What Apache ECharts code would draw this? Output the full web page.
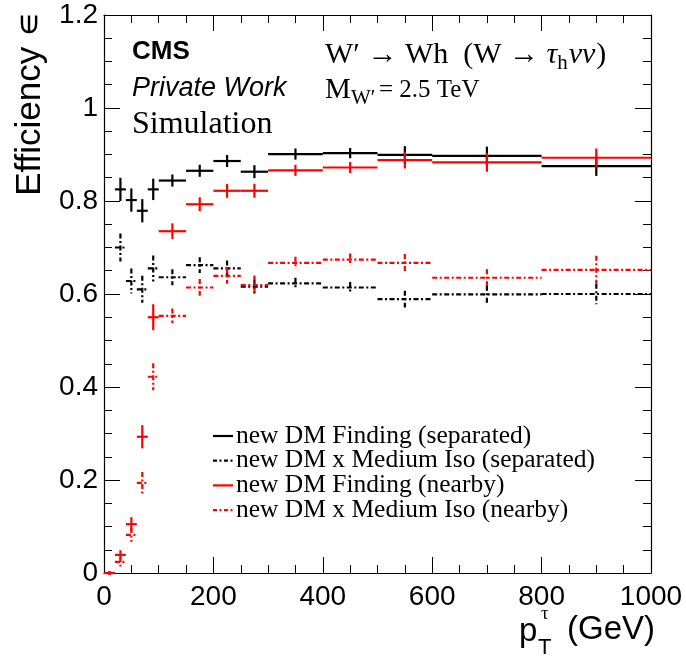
<!DOCTYPE html>
<html><head><meta charset="utf-8">
<script src="https://cdn.jsdelivr.net/npm/echarts@6/dist/echarts.min.js"></script>
<style>html,body{margin:0;padding:0;background:#fff}#c{width:686px;height:659px}</style>
</head><body><div id="c"></div>
<script>
// Bin edges (pT in GeV)
const binLow  = [0, 20, 40, 60, 80, 100, 150, 200, 250, 300, 400, 500, 600, 800];
const binHigh = [20, 40, 60, 80, 100, 150, 200, 250, 300, 400, 500, 600, 800, 1000];

// new DM Finding (separated)
const findSep    = [null, 0.825, 0.802, 0.779, 0.825, 0.844, 0.865, 0.886, 0.863, 0.901, 0.903, 0.899, 0.897, 0.875];
const findSepErr = [null, 0.025, 0.025, 0.025, 0.023, 0.013, 0.013, 0.013, 0.014, 0.012, 0.011, 0.019, 0.020, 0.021];
// new DM x Medium Iso (separated)
const isoSep     = [null, 0.700, 0.628, 0.610, 0.655, 0.636, 0.662, 0.655, 0.616, 0.623, 0.614, 0.589, 0.599, 0.600];
const isoSepErr  = [null, 0.030, 0.027, 0.029, 0.028, 0.017, 0.017, 0.017, 0.015, 0.012, 0.012, 0.018, 0.019, 0.022];
// new DM Finding (nearby)
const findNear    = [0.000, 0.039, 0.105, 0.293, 0.550, 0.735, 0.793, 0.822, 0.822, 0.866, 0.872, 0.888, 0.883, 0.893];
const findNearErr = [0.004, 0.010, 0.015, 0.025, 0.028, 0.017, 0.015, 0.015, 0.015, 0.012, 0.012, 0.018, 0.020, 0.020];
// new DM x Medium Iso (nearby)
const isoNear     = [0.000, 0.024, 0.082, 0.194, 0.422, 0.553, 0.614, 0.639, 0.619, 0.667, 0.674, 0.667, 0.635, 0.652];
const isoNearErr  = [0.004, 0.010, 0.015, 0.023, 0.029, 0.016, 0.018, 0.017, 0.021, 0.013, 0.013, 0.019, 0.018, 0.030];

const xTicks = [0, 200, 400, 600, 800, 1000];
const yTicks = [0, 0.2, 0.4, 0.6, 0.8, 1, 1.2];

const legendNames = [
  'new DM Finding (separated)',
  'new DM x Medium Iso (separated)',
  'new DM Finding (nearby)',
  'new DM x Medium Iso (nearby)'
];

const DASH = [5, 2.5, 2, 2.5];
const serif = '"Liberation Serif", "Times New Roman", serif';
const sans = '"Liberation Sans", Arial, Helvetica, sans-serif';

function makeSeries(name, vals, errs, color, dashed) {
  const data = [];
  for (let i = 0; i < vals.length; i++) {
    if (vals[i] == null) continue;
    data.push([(binLow[i] + binHigh[i]) / 2, binLow[i], binHigh[i], vals[i], errs[i]]);
  }
  return {
    type: 'custom', name: name, data: data, clip: false, z: 5,
    encode: { x: [0, 1, 2], y: [3] },
    renderItem: function (params, api) {
      const lo = api.coord([api.value(1), api.value(3)]);
      const hi = api.coord([api.value(2), api.value(3)]);
      const top = api.coord([api.value(0), api.value(3) + api.value(4)]);
      const bot = api.coord([api.value(0), api.value(3) - api.value(4)]);
      const style = { stroke: color, lineWidth: 2.2, fill: null, lineDash: dashed ? DASH : null };
      return { type: 'group', children: [
        { type: 'line', shape: { x1: lo[0], y1: lo[1], x2: hi[0], y2: hi[1] }, style: style },
        { type: 'line', shape: { x1: top[0], y1: top[1], x2: bot[0], y2: bot[1] }, style: style }
      ]};
    }
  };
}

// text measurement for composed labels
const mctx = document.createElement('canvas').getContext('2d');
function tw(text, font) { mctx.font = font; return mctx.measureText(text).width; }

// Process label: W' -> Wh (W -> tau_h nu nu)
const procY = 55, procX = 325;
const fMain = '30px ' + serif, fIt = 'italic 30px ' + serif, fSub = '21px ' + serif;
const p1 = 'W\u2032 \u2192 Wh  (W \u2192 ';
let px = procX;
const procParts = [];
procParts.push({ type: 'text', x: px, y: procY, style: { text: p1, font: fMain, fill: '#000', textVerticalAlign: 'middle' } });
px += tw(p1, fMain);
procParts.push({ type: 'text', x: px, y: procY, style: { text: '\u03C4', font: fIt, fill: '#000', textVerticalAlign: 'middle' } });
px += tw('\u03C4', fIt);
procParts.push({ type: 'text', x: px, y: procY + 8, style: { text: 'h', font: fSub, fill: '#000', textVerticalAlign: 'middle' } });
px += tw('h', fSub) + 1;
procParts.push({ type: 'text', x: px, y: procY, style: { text: '\u03BD\u03BD', font: fIt, fill: '#000', textVerticalAlign: 'middle' } });
px += tw('\u03BD\u03BD', fIt) + 1;
procParts.push({ type: 'text', x: px, y: procY, style: { text: ')', font: fMain, fill: '#000', textVerticalAlign: 'middle' } });

const legendGraphics = [];
const legendColors = ['#000', '#000', '#ff0000', '#ff0000'];
const legendDashed = [false, true, false, true];
for (let i = 0; i < 4; i++) {
  const yy = 436 + i * 24.7;
  legendGraphics.push({ type: 'line', shape: { x1: 213, y1: yy, x2: 233, y2: yy },
    style: { stroke: legendColors[i], lineWidth: 2.2, lineDash: legendDashed[i] ? [4, 2.5, 2, 2.5] : null } });
  legendGraphics.push({ type: 'text', x: 236, y: yy, style: { text: legendNames[i],
    font: '25.5px ' + serif, fill: '#000', textVerticalAlign: 'middle', textAlign: 'left' } });
}

const chart = echarts.init(document.getElementById('c'), null, { renderer: 'canvas' });

const axisCommon = {
  min: 0, axisLine: { show: true, onZero: false, lineStyle: { color: '#000', width: 1.2 } },
  axisTick: { show: true, inside: true, length: 16, lineStyle: { color: '#000', width: 1 } },
  minorTick: { show: true, splitNumber: 4, length: 8, lineStyle: { color: '#000', width: 1 } },
  splitLine: { show: false }, minorSplitLine: { show: false }
};

chart.setOption({
  animation: false,
  backgroundColor: '#fff',
  grid: { left: 104, right: 35, top: 15, bottom: 86 },
  xAxis: [
    Object.assign({}, axisCommon, { type: 'value', position: 'bottom', max: 1000, interval: 200,
      axisLabel: { show: true, margin: 10, color: '#000', fontSize: 28, fontFamily: sans,
        formatter: function (v) { return xTicks.indexOf(v) >= 0 ? String(v) : ''; } } }),
    Object.assign({}, axisCommon, { type: 'value', position: 'top', max: 1000, interval: 200, axisLabel: { show: false } })
  ],
  yAxis: [
    Object.assign({}, axisCommon, { type: 'value', position: 'left', max: 1.2, interval: 0.2,
      axisLabel: { show: true, margin: 6, color: '#000', fontSize: 28, fontFamily: sans,
        formatter: function (v) {
          const r = Math.round(v * 10) / 10;
          return yTicks.indexOf(r) >= 0 ? String(r) : '';
        } } }),
    Object.assign({}, axisCommon, { type: 'value', position: 'right', max: 1.2, interval: 0.2, axisLabel: { show: false } })
  ],
  series: [
    makeSeries(legendNames[0], findSep, findSepErr, '#000', false),
    makeSeries(legendNames[1], isoSep, isoSepErr, '#000', true),
    makeSeries(legendNames[2], findNear, findNearErr, '#ff0000', false),
    makeSeries(legendNames[3], isoNear, isoNearErr, '#ff0000', true)
  ],
  graphic: [
    // y axis title
    { type: 'text', x: 30, y: 12, rotation: Math.PI / 2,
      style: { text: 'Efficiency \u220A', font: '35px ' + sans, fill: '#000', textAlign: 'right', textVerticalAlign: 'middle' } },
    // x axis title p_T^tau (GeV)
    { type: 'text', x: 519, y: 632, style: { text: 'p', font: '33px ' + sans, fill: '#000', textAlign: 'left', textVerticalAlign: 'middle' } },
    { type: 'text', x: 541, y: 614, style: { text: '\u03C4', font: '19px ' + serif, fill: '#000', textAlign: 'left', textVerticalAlign: 'middle' } },
    { type: 'text', x: 538, y: 648, style: { text: 'T', font: '22px ' + sans, fill: '#000', textAlign: 'left', textVerticalAlign: 'middle' } },
    { type: 'text', x: 655, y: 630, style: { text: '(GeV)', font: '33px ' + sans, fill: '#000', textAlign: 'right', textVerticalAlign: 'middle' } },
    // CMS labels
    { type: 'text', x: 132, y: 52, style: { text: 'CMS', font: 'bold 26px ' + sans, fill: '#000', textVerticalAlign: 'middle' } },
    { type: 'text', x: 132, y: 88, style: { text: 'Private Work', font: 'italic 27px ' + sans, fill: '#000', textVerticalAlign: 'middle' } },
    { type: 'text', x: 132, y: 125, style: { text: 'Simulation', font: '32px ' + serif, fill: '#000', textVerticalAlign: 'middle' } },
    // mass label
    { type: 'text', x: 325, y: 90, style: { text: 'M', font: '29px ' + serif, fill: '#000', textVerticalAlign: 'middle' } },
    { type: 'text', x: 351, y: 98, style: { text: 'W\u2032', font: '21px ' + serif, fill: '#000', textVerticalAlign: 'middle' } },
    { type: 'text', x: 379, y: 90, style: { text: '= 2.5 TeV', font: '25px ' + serif, fill: '#000', textVerticalAlign: 'middle' } }
  ].concat(procParts).concat(legendGraphics)
});
</script>
</body></html>
